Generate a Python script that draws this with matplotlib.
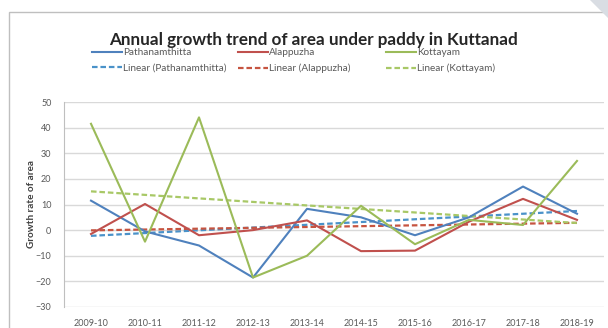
import numpy as np
import matplotlib.pyplot as plt
from matplotlib.patches import Rectangle, Polygon

plt.rcParams["font.family"] = ["Lato", "DejaVu Sans"]

years = ["2009-10", "2010-11", "2011-12", "2012-13", "2013-14",
         "2014-15", "2015-16", "2016-17", "2017-18", "2018-19"]
pathanamthitta = [11.5, -0.5, -6.0, -18.5, 8.3, 5.0, -2.0, 5.0, 17.0, 6.4]
alappuzha = [-1.5, 10.2, -2.0, 0.0, 3.8, -8.2, -8.0, 3.3, 12.2, 4.0]
kottayam = [41.5, -4.5, 44.0, -18.5, -10.0, 9.5, -5.5, 4.0, 2.0, 27.0]

# (name, values, line colour, trendline colour)
series = [
    ("Pathanamthitta", pathanamthitta, "#4F81BD", "#4A92C9"),
    ("Alappuzha", alappuzha, "#C0504D", "#C65440"),
    ("Kottayam", kottayam, "#9BBB59", "#A8C866"),
]

fig = plt.figure(figsize=(6.08, 3.28), dpi=100)
W, H = 608, 328

# chart frame, behind everything
fig.patches.append(Rectangle((9 / W, -0.1), 1.2, 0.1 + (H - 12) / H, transform=fig.transFigure,
                             facecolor="white", edgecolor="#BFBFBF", linewidth=1.0,
                             zorder=-10))
fig.patches.append(Polygon([(590 / W, 1), (1, 1), (1, 1 - 18 / H)], closed=True,
                           transform=fig.transFigure, facecolor="#D9DDE3",
                           edgecolor="none", zorder=-10))

ax = fig.add_axes([64 / W, 1 - 307 / H, 540 / W, 205 / H])
ax.set_facecolor("none")

x = np.arange(len(years))
pairs = []
for name, values, color, tcolor in series:
    h, = ax.plot(x, values, color=color, linewidth=1.5, label=name, zorder=3)
    slope, icpt = np.polyfit(x, values, 1)
    t, = ax.plot(x, slope * x + icpt, color=tcolor, linewidth=1.6,
                 linestyle=(0, (2.5, 1.3)), label=f"Linear ({name})", zorder=2)
    pairs.append((h, t))

ax.set_xlim(-0.5, len(years) - 0.5)
ax.set_ylim(-30, 50)
ax.set_yticks(range(-30, 51, 10))
ax.set_xticks(x)
ax.set_xticklabels(years)
ax.tick_params(axis="both", length=0, labelsize=6.5, colors="#595959")
ax.tick_params(axis="y", pad=9)
ax.tick_params(axis="x", pad=9)
ax.grid(axis="y", color="#D9D9D9", linewidth=1.0)
for side in ["top", "right", "bottom"]:
    ax.spines[side].set_visible(False)
ax.spines["left"].set_color("#BFBFBF")

ax.set_ylabel("Growth rate of area", fontsize=7.2, fontweight="bold", color="#404040",
              labelpad=0)
fig.suptitle("Annual growth trend of area under paddy in Kuttanad", x=313 / W,
             y=1 - 32 / H, fontsize=12.3, fontweight="bold", color="#262626")

# one legend column per series, equally spaced like an Excel legend
col_x = [92, 238, 386]
for cx, (h, t) in zip(col_x, pairs):
    leg = fig.legend([h, t], [h.get_label(), t.get_label()], loc="upper left",
                     bbox_to_anchor=(cx / W, 1 - 48 / H), frameon=False, fontsize=7.2,
                     handlelength=3.0, handletextpad=0.1, labelspacing=0.65,
                     borderpad=0, borderaxespad=0)
    for txt in leg.get_texts():
        txt.set_color("#595959")

fig.savefig("out.png", dpi=100)
